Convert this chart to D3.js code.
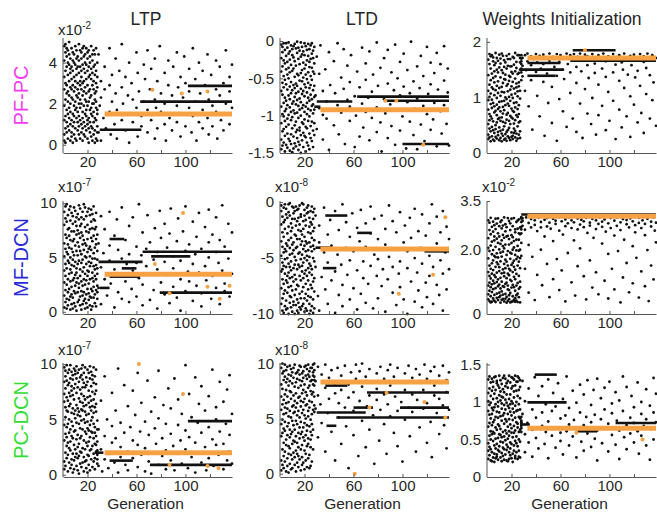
<!DOCTYPE html>
<html><head><meta charset="utf-8">
<script src="https://cdn.jsdelivr.net/npm/d3@7"></script>
<style>body{margin:0;background:#fff}svg{display:block;font-family:Arial,"Liberation Sans",sans-serif}</style>
</head><body><svg id="c" width="657" height="513"></svg>
<script>
const columnTitles = ["LTP", "LTD", "Weights Initialization"];
const rowNames = ["PF-PC", "MF-DCN", "PC-DCN"];
const rowColors = ["#f03cf0", "#2a2ad8", "#33dd33"];
const xTicks = [20, 40, 60, 80, 100, 120];
const xTickLabels = ["20", "", "60", "", "100", ""];

// Individuals per generation (index 0 = generation 1). Stored as integers; divide by panel divisor.
const ltpPFPC = [
[48,12,33,5,27,41,19,2],[36,8,45,22,14,30,49,1],[25,43,6,38,17,11,47,29],[3,40,21,34,9,46,15,26],[44,18,31,7,24,39,13,50],[10,35,2,28,42,20,37,16],[32,6,47,23,12,38,4,27],[41,15,29,1,36,22,45,9],[19,44,11,33,5,26,40,14],[28,3,39,17,48,8,31,21],[13,37,24,46,2,34,18,42],[7,30,43,16,27,11,38,23],[35,20,5,41,14,49,25,9],[22,46,12,31,38,3,18,29],[45,10,27,36,6,42,20,33],[16,39,2,24,47,13,30,8],[31,5,43,19,11,37,26,48],[4,28,35,15,40,22,9,44],[39,14,21,47,7,32,17,25],[12,42,29,3,36,19,45,10],[26,8,38,21,13,46,33,1],[43,17,6,34,27,11,40,23],[9,32,48,18,24,4,37,15],[35,2,14,41,29,20,8,44],[20,46,27,11,38,5,31,16],[1,25,39,13,44,22,7,34],[30,12,21,47,3,36,18,26],[17,40,9,28,15,33,6,2],
[44,6],[19],[31,2,23],[],[13],[38,27],[8],[],[],[47,16,29],[5],[21,34],[],[10],[42,25],[17,3],[],[36],[],[28,12,49],[20],[],[7,33],[],[24],[15,40,1],[],[30],[11,22],[],[],[45,18],[4,35],[26],[],[14,9],[],[39,21],[32],[],[6,46,17],[],[27],[12,37],[],[],[22,3,42],[18],[31,8],[],[48],[16,25],[],[],[35,10,20],[2],[],[29,41],[13],[],[24,7],[38],[],[],[19,45,11],[28],[],[4,33],[],[15,23],[43],[9,30],[],[],[37,18,26],[],[6],[47,14],[],[21,32],[2],[],[40,11],[25],[],[17,36,8],[],[29],[],[13,44],[22,5],[],[34],[19,9],[],[],[27,41,16],[3],[],[38,24],[12],[],[30,7],[],[46,20],[15],[],[33,26,10],[],[18,39]
];
const ltdPFPC = [
[-5,-88,-132,-41,-110,-67,-23,-145],[-72,-15,-98,-140,-34,-121,-56,-8],[-118,-47,-3,-83,-136,-26,-101,-62],[-30,-127,-76,-12,-94,-148,-52,-107],[-91,-20,-139,-58,-115,-38,-3,-80],[-143,-65,-28,-104,-9,-86,-124,-45],[-17,-99,-131,-50,-73,-112,-36,-2],[-61,-134,-14,-89,-42,-147,-78,-25],[-106,-32,-70,-125,-6,-55,-95,-138],[-40,-84,-149,-19,-117,-66,-11,-102],[-128,-7,-59,-93,-37,-144,-81,-22],[-75,-113,-27,-137,-63,-4,-97,-48],[-10,-141,-85,-33,-108,-57,-122,-70],[-96,-44,-119,-1,-79,-130,-16,-60],[-135,-24,-68,-103,-46,-9,-146,-87],[-53,-116,-13,-77,-139,-31,-92,-120],[-21,-82,-126,-64,-2,-100,-43,-150],[-109,-39,-90,-18,-133,-71,-54,-8],[-67,-142,-29,-111,-49,-86,-123,-14],[-3,-58,-105,-37,-127,-74,-19,-95],[-88,-129,-45,-7,-62,-115,-148,-32],[-51,-12,-83,-136,-26,-98,-69,-117],[-140,-76,-20,-56,-107,-4,-91,-42],[-28,-101,-63,-124,-80,-35,-145,-11],[-114,-47,-6,-93,-130,-72,-24,-59],[-36,-134,-87,-17,-52,-108,-3,-78],[-97,-23,-120,-66,-41,-142,-85,-13],[-60,-110,-30,-92,-8,-75,-126,-44],
[-73],[-118,-21],[],[-90,-44],[-6],[],[-132,-67,-99],[],[-38],[-81,-104],[],[-15,-146],[-59],[],[],[-92,-27,-113],[-70],[],[-3,-86],[-125],[],[-49,-96],[],[-64,-11],[-138],[],[-79,-33],[],[-107,-55,-88],[-19],[],[],[-142,-74],[-100],[-41],[],[-62,-128],[],[-9,-84],[-116],[],[-52,-95,-30],[],[-76],[-133,-14],[],[-68,-103],[-45],[],[],[-89,-122,-2],[-60],[],[-36,-109],[-148],[],[-78,-23],[-97],[],[-57,-130,-12],[],[-85],[-42,-114],[],[-66],[-5,-139],[],[-93,-50],[],[-120,-73,-28],[],[-101],[-17,-61],[],[-144],[-82,-39],[],[-108,-70],[-1],[],[-54,-126],[-91],[],[-34,-77,-145],[],[-63],[-112,-20],[],[-87,-47],[-134],[],[-8,-98],[-71],[],[-29,-119,-58],[],[-105],[-43,-83],[],[-141,-16],[-65],[],[-94,-31],[-124],[],[-53,-7,-86],[],[-111],[-37,-69],[-140]
];
const wPFPC = [
[25,140,78,168,52,112,33,95],[160,44,123,70,178,28,101,59],[88,131,21,152,66,39,174,107],[47,176,96,30,143,81,118,62],[135,57,165,24,90,115,41,172],[73,104,36,158,127,22,84,147],[29,162,113,50,76,138,180,43],[150,68,26,99,171,55,121,87],[108,38,145,79,32,166,61,129],[63,177,92,117,46,23,154,82],[170,27,58,136,103,75,40,161],[35,119,149,64,21,93,179,110],[126,83,42,175,56,144,71,31],[94,155,24,109,133,48,167,77],[54,34,132,86,163,100,26,141],[175,121,69,38,97,152,60,22],[41,89,157,124,30,72,111,169],[139,58,27,101,178,45,85,130],[67,169,114,52,23,137,156,94],[156,37,80,146,120,64,29,105],[31,128,173,62,99,25,143,76],[116,74,44,159,36,171,90,53],[82,147,107,28,134,59,180,40],[164,22,91,125,68,153,35,118],[48,111,142,79,176,26,102,65],[127,176,55,33,86,144,120,70],[98,39,163,112,150,57,27,171],[152,170,131,160,145,165,150,176],
[171,157,138],[],[176,112],[149],[165,179],[84],[],[158,131,174],[42],[169],[],[178,146],[103,163],[],[175,66],[152],[],[177,128,160],[31],[],[143,171],[90],[166,179],[],[119,54],[173],[155],[],[178,139,22],[],[164,97],[176],[],[75,150],[171,133],[],[179,47],[160],[],[108,176,145],[],[168,62],[178],[],[126,155,38],[173],[],[89,179],[147],[166,27],[],[177,115],[],[158,71,174],[135],[],[52,170],[178,99],[],[161,144],[33],[],[176,123,68],[170],[],[152,85],[179],[],[41,165,137],[],[174,110],[58],[168],[],[145,178,94],[],[25,159],[172],[],[130,176,78],[],[163,46],[150],[179,117],[],[66,170],[141],[],[175,102,29],[158],[],[177,87],[136],[],[169,55,148],[],[178,121],[72],[],[164,174,36],[],[106,153],[179],[],[62,167,140],[],[176,95],[127],[],[171,49]
];
const ltpMFDCN = [
[92,15,63,38,80,4,51,27],[44,71,9,97,33,58,20,86],[12,55,83,25,68,40,99,3],[76,30,47,89,6,62,18,53],[35,94,21,59,77,11,45,70],[2,66,39,84,14,97,28,50],[58,23,91,7,43,74,36,16],[81,48,13,65,29,88,3,55],[19,74,42,96,52,8,67,31],[61,5,83,34,17,46,93,24],[40,87,27,71,56,1,36,79],[9,52,64,18,90,31,75,44],[72,26,98,47,11,60,22,85],[33,79,6,56,68,39,14,95],[87,45,19,73,2,53,81,28],[15,62,37,92,24,70,48,7],[66,10,85,41,57,18,30,99],[25,96,51,3,78,35,63,12],[50,29,74,16,88,44,8,61],[4,80,33,67,21,92,55,38],[95,37,58,11,46,26,73,17],[42,14,89,60,6,76,30,51],[21,68,2,45,83,13,57,94],[77,49,31,90,36,65,19,5],[13,85,54,23,70,42,97,28],[59,8,39,76,49,16,84,33],[30,91,67,20,62,5,43,78],[48,24,12,56,35,71,18,40],
[63,22],[],[88,41,7],[],[54],[30,76],[],[15],[],[92,47,61],[26],[],[],[70,4,39],[],[85],[18,57],[],[33],[96,49,12],[],[],[66,28],[44],[],[79,9,53],[],[21],[38,87],[],[],[60,14,45],[],[99,31],[],[52],[25,73,6],[],[],[42,58],[89],[],[11,35,64],[],[],[48,20],[77],[],[3,55,39],[],[93],[27,68],[],[],[46,16,81],[],[59,34],[],[8,72],[95],[],[40,23,51],[],[],[65,13],[86],[],[30,47,1],[],[74],[],[56,19,97],[],[37],[62,28],[],[],[10,83,44],[],[53],[69,24],[],[36,91],[],[5,58,17],[],[],[78,42],[29],[],[64,50,94],[],[12],[33,71],[],[],[87,22,55],[],[45],[7,66],[],[98,38],[],[19,60,26],[],[],[81,49],[14],[],[35,73]
];
const ltdMFDCN = [
[-8,-62,-35,-91,-20,-77,-48,-3],[-54,-13,-86,-40,-69,-97,-27,-60],[-31,-99,-18,-73,-5,-45,-82,-57],[-79,-42,-64,-2,-93,-24,-51,-16],[-11,-70,-37,-88,-58,-6,-96,-44],[-66,-28,-95,-50,-14,-81,-39,-72],[-2,-55,-76,-22,-100,-34,-63,-9],[-47,-90,-12,-68,-41,-58,-1,-84],[-85,-19,-53,-32,-75,-94,-26,-61],[-23,-67,-4,-98,-46,-15,-79,-38],[-71,-36,-89,-10,-59,-43,-92,-5],[-15,-83,-49,-65,-29,-100,-8,-56],[-92,-4,-30,-78,-52,-21,-69,-41],[-40,-60,-97,-17,-87,-7,-33,-74],[-6,-75,-25,-56,-14,-90,-46,-99],[-58,-33,-82,-45,-3,-66,-20,-94],[-26,-96,-11,-70,-51,-38,-86,-13],[-80,-47,-62,-1,-35,-93,-57,-29],[-17,-2,-91,-54,-76,-24,-42,-68],[-64,-86,-39,-12,-98,-50,-7,-31],[-35,-21,-73,-95,-44,-61,-16,-82],[-97,-52,-5,-37,-66,-10,-88,-48],[-9,-78,-59,-27,-84,-43,-3,-70],[-49,-14,-100,-63,-22,-91,-55,-36],[-74,-40,-18,-85,-8,-57,-97,-28],[-20,-93,-65,-44,-77,-4,-32,-60],[-87,-26,-50,-9,-71,-39,-99,-15],[-42,-68,-23,-80,-34,-53,-6,-95],
[-58,-12],[],[-84],[-36,-97,-21],[],[-67],[],[-5,-45],[-78],[],[-29,-91,-54],[],[-16],[-70,-39],[],[],[-99,-62,-8],[],[-47],[-25,-83],[],[-56],[-2,-74,-93],[],[],[-41,-18],[-65],[],[-87,-31,-52],[],[-10],[-77,-44],[],[],[-96,-23,-61],[],[-35],[-82,-7],[],[-53,-68],[],[-19,-90,-40],[],[-73],[],[-4,-57,-28],[],[-95],[-47,-15],[],[-66],[-33,-86,-51],[],[],[-12,-75],[-60],[],[-98,-38,-24],[],[-69],[-3,-49],[],[],[-81,-58,-17],[],[-42],[-92,-27],[],[-64],[-9,-53,-76],[],[],[-36,-87],[-21],[],[-59,-100,-44],[],[-14],[-71,-32],[],[],[-50,-89,-6],[],[-63],[-26,-79],[],[-41],[-94,-11,-55],[],[],[-72,-30],[-85],[],[-48,-19,-66],[],[-2],[-58,-91],[],[],[-37,-74,-13],[],[-83],[-52,-27],[],[-97,-64,-8],[],[-45],[-22,-78],[],[-60,-33]
];
const wMFDCN = [
[290,45,172,88,235,130,61,205],[118,260,72,195,40,150,283,97],[212,55,140,298,83,247,110,36],[68,185,270,125,38,224,157,92],[255,103,48,166,286,77,198,136],[41,228,120,275,59,180,95,240],[176,80,295,146,208,37,263,114],[99,280,63,233,128,188,50,160],[220,43,154,107,296,86,250,175],[133,272,91,200,52,240,145,66],[57,190,285,112,163,35,217,79],[265,126,70,228,44,178,290,100],[86,245,193,47,138,274,60,210],[203,39,117,299,84,155,236,128],[47,168,256,93,215,62,142,278],[240,111,53,183,35,269,97,162],[125,297,76,150,242,88,195,40],[74,215,140,46,288,120,58,232],[281,65,190,260,106,36,171,135],[152,244,38,102,220,295,82,187],[39,130,272,199,55,158,238,90],[226,83,165,297,115,44,206,146],[108,262,49,137,253,183,72,38],[197,41,230,88,170,285,124,58],[63,177,289,211,37,96,150,264],[250,118,78,162,230,52,196,293],[142,36,268,100,199,83,247,173],[285,270,220,296,250,180,300,262],
[288,273,296],[],[261,140],[299],[],[282,214,66],[],[294,268],[177],[],[276,290,43],[],[257,121],[298],[],[285,199,268],[89],[],[292,240],[],[271,155,297],[],[52,283],[264],[],[295,226,108],[],[279,289],[170],[],[300,74,258],[],[287,135],[246],[],[293,272,39],[],[189,281],[299],[],[266,98,290],[],[228,284],[57],[],[296,262,148],[],[277,203],[292],[],[117,269,287],[],[298,45],[251],[],[283,166,274],[],[295,82],[236],[],[290,263,129],[],[61,279],[299],[],[218,286,270],[],[103,293],[255],[],[281,186,48],[],[297,266],[140],[],[289,243,76],[],[273,299],[195],[],[36,284,260],[],[294,113],[230],[],[278,291,158],[],[67,268],[296],[],[210,287,95],[],[275,253],[174],[],[298,51,282],[],[132,266],[290],[],[244,279,86],[],[295,198],[40],[],[271,286,150],[],[299,107],[258],[283,222]
];
const ltpPCDCN = [
[97,31,66,12,84,45,5,73],[52,89,20,61,37,94,8,78],[15,70,43,99,26,58,85,34],[81,3,57,29,92,18,67,46],[38,95,11,74,50,83,24,62],[64,22,87,6,41,71,99,30],[9,56,35,93,76,14,48,80],[90,44,72,19,60,2,33,86],[27,78,5,55,96,39,68,13],[58,16,91,40,23,82,51,94],[74,98,32,63,8,47,19,87],[4,60,79,25,92,36,54,15],[46,84,17,69,1,57,95,28],[88,33,53,10,77,42,66,21],[20,73,96,49,35,90,7,59],[65,11,41,86,58,24,79,99],[31,92,62,3,71,16,50,83],[79,47,23,68,97,39,12,57],[13,81,54,37,6,88,63,29],[95,26,70,48,84,18,42,2],[40,65,9,92,30,76,55,17],[71,4,87,22,61,45,98,34],[23,58,39,80,14,93,67,49],[86,38,75,7,52,26,90,62],[12,97,46,68,33,83,19,56],[61,28,15,89,73,43,5,38],[35,82,57,21,95,64,27,76],[18,49,20,14,22,30,10,41],
[41,8],[],[67,23],[3],[],[35,89,14],[],[50],[19,6],[],[],[74,29,44],[],[11],[58,33],[],[2,96],[],[25,47,16],[],[],[81,38],[9],[],[62,21,4],[],[43],[],[15,76,31],[],[54],[],[7,27,92],[],[39],[18,65],[],[],[48,3,24],[],[85],[12,36],[],[57,20,1],[],[],[70,42],[28],[],[9,51,94],[],[],[33,17],[63],[],[22,5,46],[],[78],[],[37,13,60],[],[26],[87,4],[],[],[45,19,68],[],[31],[10,55],[],[],[99,23,40],[],[6],[73,34],[],[16,52],[],[],[29,88,2],[],[47],[64,20],[],[38,11,80],[],[],[25,58],[4],[],[43,71,15],[],[],[32,95],[8],[],[61,27,50],[],[18],[84,39],[],[],[5,66,28],[],[46],[13,77],[],[36,90,21],[],[55,10]
];
const ltdPCDCN = [
[96,12,58,34,81,45,3,70],[22,77,49,91,8,63,37,100],[67,5,85,28,54,16,93,41],[39,88,20,72,47,99,11,60],[83,31,64,2,94,26,55,76],[14,59,97,43,70,35,7,86],[52,80,25,65,18,90,46,1],[75,9,40,98,57,23,84,33],[4,68,89,17,36,74,51,95],[61,27,13,82,5,48,92,38],[87,44,71,30,62,96,19,55],[29,99,56,8,79,40,66,15],[48,21,83,60,34,2,91,73],[92,64,10,45,86,28,53,18],[16,37,78,94,24,69,6,57],[70,90,32,51,13,85,42,98],[36,3,61,80,47,22,97,66],[84,55,26,15,73,91,38,8],[10,76,93,42,58,33,65,87],[53,30,68,97,21,81,4,46],[98,62,18,35,89,50,74,12],[25,86,44,71,6,63,95,39],[78,14,57,90,32,99,27,52],[43,93,5,66,80,17,60,88],[7,49,75,24,96,38,84,31],[65,96,35,85,54,11,72,45],[89,22,81,58,92,74,40,99],[56,88,62,80,100,70,94,85],
[84,59],[],[97,71,33],[],[63],[90,46],[],[],[78,99,20],[],[55],[87,68],[],[38,94],[],[],[73,12,82],[],[96],[51,64],[],[89,27,76],[],[],[60,98],[43],[],[81,69,5],[],[92],[],[35,74,57],[],[99,86],[],[16],[66,93],[],[48,79,100],[],[],[88,24],[61],[],[95,71,40],[],[],[53,83],[9],[],[91,67,77],[],[30],[58,97],[],[],[86,45,72],[],[18],[94,63],[],[80,52,99],[],[],[37,88],[70],[],[96,57,25],[],[],[83,65],[11],[],[91,76,49],[],[],[60,98],[34],[],[87,72,56],[],[],[95,20],[67],[],[42,84,90],[],[],[76,59],[99],[],[28,86,64],[],[],[93,47],[15],[],[80,71,97],[],[55],[],[89,36,68],[],[],[98,62],[44],[],[85,74,23],[],[92,58]
];
const wPCDCN = [
[130,45,88,24,112,67,101,35],[72,118,29,96,55,134,40,83],[22,99,61,126,37,78,108,50],[115,33,84,57,131,21,92,69],[48,127,73,104,26,89,60,120],[93,20,111,42,76,133,31,58],[134,66,38,97,51,116,80,25],[27,87,125,63,105,44,30,128],[79,52,100,23,122,70,94,36],[119,41,68,135,34,86,57,109],[56,102,26,81,114,47,129,64],[32,124,91,53,75,107,21,98],[106,60,39,132,28,82,117,46],[85,23,113,71,96,54,135,37],[49,131,77,30,121,62,90,103],[125,36,58,99,43,110,74,22],[67,95,128,21,84,51,119,40],[24,77,104,61,135,33,92,55],[110,46,29,87,70,126,38,97],[59,133,82,118,25,65,101,44],[98,31,121,53,91,20,76,132],[35,114,68,106,42,130,59,86],[122,62,25,79,135,48,95,28],[73,100,45,127,33,88,115,54],[41,127,89,66,108,24,71,134],[116,50,132,35,80,97,60,27],[90,26,63,120,47,129,78,105],[70,72,68,75,65,60,80,73],
[84,128],[],[57,101,33],[],[72],[118,46],[],[],[90,63,27],[],[133],[52,79],[],[108,38],[],[],[68,121,86],[],[44],[97,60],[],[25,74,130],[],[],[88,55],[112],[],[65,39,94],[],[125],[],[78,48,59],[],[104,30],[],[82],[61,134],[],[42,92,70],[],[],[115,54],[76],[],[26,99,64],[],[],[86,123],[47],[],[69,110,35],[],[80],[58,129],[],[],[96,40,73],[],[116],[51,83],[],[131,62,22],[],[],[77,105],[45],[],[90,66,119],[],[],[34,71],[127],[],[56,85,98],[],[],[113,43],[75],[],[62,24,102],[],[],[88,134],[53],[],[120,69,37],[],[],[79,58],[108],[],[46,93,72],[],[],[126,61],[31],[],[84,100,55],[],[68],[],[117,42,77],[],[],[23,95],[64],[],[132,86,50],[],[73,111]
];

// Converged best-individual runs [fromGen, toGen, value] (display units)
const bestRuns = [
  [[30,64,0.73],[63,138,2.1],[102,138,2.87]],
  [[30,59,-0.81],[28,33,-0.88],[63,138,-0.745],[85,138,-0.8],[100,138,-1.38]],
  [[70,105,1.85],[68,138,1.66],[27,62,1.5],[33,56,1.39],[33,60,1.62]],
  [[65,138,5.53],[72,104,5.1],[29,65,4.6],[48,60,4.0],[38,63,3.24],[30,38,2.2],[79,138,1.77],[38,50,6.7]],
  [[37,55,-1.2],[63,75,-2.75],[29,41,-4.07],[35,46,-5.9],[118,138,-4.4]],
  [[28,138,3.08]],
  [[26,33,2.0],[38,57,1.28],[71,138,0.9],[102,138,4.85]],
  [[37,55,8.0],[71,138,7.37],[60,76,6.0],[98,138,6.0],[30,70,5.55],[46,138,5.1],[38,46,4.35]],
  [[39,57,1.365],[33,65,0.995],[28,35,0.7],[74,90,0.61],[105,138,0.72]]
];
// Final best value [fromGen, toGen, value]
const finalBest = [[34,138,1.5],[33,138,-0.92],[33,138,1.71],[34,138,3.46],[33,138,-4.2],[33,138,3.03],[34,138,2.0],[33,138,8.32],[33,138,0.65]];
// Highlighted individuals [gen, value]
const bestPoints = [
  [[73,2.68],[97,2.5],[118,2.6]],
  [[86,-0.8],[95,-0.8],[117,-1.39]],
  [[80,1.85]],
  [[98,9.1],[75,4.4],[87,1.7],[118,2.3],[128,1.2],[136,2.4]],
  [[135,-1.35],[125,-6.5],[97,-8.2]],
  [],
  [[62,10],[98,7.3],[87,0.9],[118,0.8],[127,0.6]],
  [[87,7.35],[73,6.0],[118,6.5],[135,5.1],[61,0]],
  [[73,0.59],[127,0.5]]
];

const panelData = [ltpPFPC, ltdPFPC, wPFPC, ltpMFDCN, ltdMFDCN, wMFDCN, ltpPCDCN, ltdPCDCN, wPCDCN];
const panelDiv = [10, 100, 100, 10, 10, 100, 10, 10, 100];
const yDomains = [[-0.4,5.2],[-1.5,0.04],[0,2.07],[-0.2,10.2],[-10,0.1],[0,3.5],[-0.2,10.1],[-0.3,10.05],[0,1.52]];
const yTickVals = [[0,2,4],[-1.5,-1,-0.5,0],[0,1,2],[0,5,10],[-10,-5,0],[0,2,3.5],[0,5,10],[0,5,10],[0,0.5,1,1.5]];
const yTickText = [["0","2","4"],["-1.5","-1","-0.5","0"],["0","1","2"],["0","5","10"],["-10","-5","0"],["0","2.0","3.5"],["0","5","10"],["0","5","10"],["0","0.5","1","1.5"]];
const exponents = ["-2", null, null, "-7", "-8", "-2", "-7", "-8", null];

const colX = [63, 280, 487], panelW = 169;
const rowRange = [[153,38],[314,201],[477,363]];
const expBaseline = [35, 192, 355];
const titleX = [146, 362, 562];

const svg = d3.select("#c");
const textCol = "#262626", axisCol = "#555";

columnTitles.forEach((t,i) => svg.append("text").attr("x", titleX[i]).attr("y", 25)
  .attr("text-anchor","middle").attr("font-size",17.5).attr("fill",textCol).text(t));
rowNames.forEach((t,i) => {
  const cy = (rowRange[i][0] + rowRange[i][1]) / 2;
  svg.append("text").attr("transform",`translate(21,${cy}) rotate(-90)`)
    .attr("text-anchor","middle").attr("dominant-baseline","central")
    .attr("font-size",20).attr("fill",rowColors[i]).text(t);
});

for (let r = 0; r < 3; r++) for (let c = 0; c < 3; c++) {
  const i = r*3 + c;
  const x = d3.scaleLinear().domain([0,138]).range([colX[c], colX[c] + panelW]);
  const y = d3.scaleLinear().domain(yDomains[i]).range(rowRange[r]);
  const g = svg.append("g");
  const pts = panelData[i].flatMap((vals, gi) => vals.map(v => [gi + 1, v / panelDiv[i]]));
  g.append("g").selectAll("circle").data(pts).join("circle")
    .attr("cx", d => x(d[0])).attr("cy", d => y(d[1])).attr("r", 1.4).attr("fill", "#111");
  g.append("g").selectAll("line").data(bestRuns[i]).join("line")
    .attr("x1", d => x(d[0])).attr("x2", d => x(d[1])).attr("y1", d => y(d[2])).attr("y2", d => y(d[2]))
    .attr("stroke", "#111").attr("stroke-width", 2.6);
  const fb = finalBest[i];
  g.append("line").attr("x1", x(fb[0])).attr("x2", x(fb[1])).attr("y1", y(fb[2])).attr("y2", y(fb[2]))
    .attr("stroke", "#f7a145").attr("stroke-width", 5);
  g.append("g").selectAll("circle").data(bestPoints[i]).join("circle")
    .attr("cx", d => x(d[0])).attr("cy", d => y(d[1])).attr("r", 2).attr("fill", "#f7a145");

  const yAxis = d3.axisLeft(y).tickValues(yTickVals[i]).tickSizeInner(-3).tickSizeOuter(0).tickPadding(6)
    .tickFormat((d, k) => yTickText[i][k]);
  const ya = g.append("g").attr("transform", `translate(${colX[c]},0)`).call(yAxis);
  const xAxis = d3.axisBottom(x).tickValues(xTicks).tickSizeInner(-3).tickSizeOuter(0).tickPadding(3)
    .tickFormat((d, k) => xTickLabels[k]);
  const xa = g.append("g").attr("transform", `translate(0,${rowRange[r][0]})`).call(xAxis);
  [ya, xa].forEach(a => {
    a.select(".domain").attr("stroke", axisCol);
    a.selectAll(".tick line").attr("stroke", axisCol);
    a.selectAll("text").attr("font-size", 15).attr("fill", textCol).attr("font-family", "Arial, 'Liberation Sans', sans-serif");
  });
  ya.select(".domain").attr("d", `M0,${rowRange[r][0]}V${rowRange[r][1]}`);

  if (exponents[i]) {
    const t = svg.append("text").attr("x", colX[c] - 5).attr("y", expBaseline[r])
      .attr("font-size", 15).attr("fill", textCol);
    t.append("tspan").text("x10");
    t.append("tspan").attr("dy", -6).attr("font-size", 10).text(exponents[i]);
  }
  if (r === 2) {
    svg.append("text").attr("x", colX[c] + panelW/2 - 2).attr("y", 508.5).attr("text-anchor","middle")
      .attr("font-size", 15.5).attr("fill", textCol).text("Generation");
  }
}
</script></body></html>
